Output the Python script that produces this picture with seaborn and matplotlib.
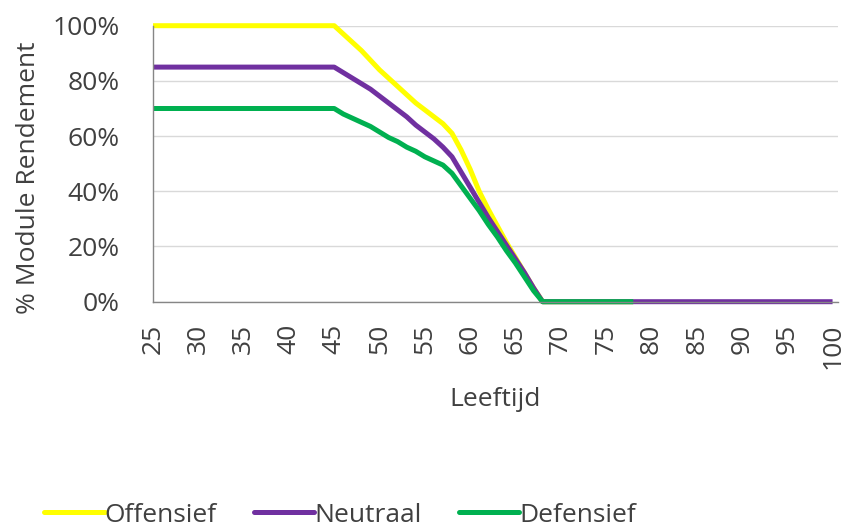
import matplotlib
matplotlib.use("Agg")
import matplotlib.pyplot as plt
from matplotlib.ticker import FuncFormatter
import seaborn as sns
import pandas as pd

# Leeftijd (breakpoints) en module rendement per profiel
ages_off = [25, 45, 46, 47, 48, 49, 50, 51, 52, 53, 54, 55, 56, 57, 58, 59, 60, 61, 62, 63, 64, 65, 66, 67, 68, 78]
vals_off = [1.00, 1.00, 0.97, 0.94, 0.91, 0.875, 0.84, 0.81, 0.78, 0.75, 0.72, 0.695, 0.67, 0.645, 0.61,
            0.55, 0.48, 0.40, 0.335, 0.275, 0.215, 0.16, 0.105, 0.05, 0.0, 0.0]

ages_neu = [25, 45, 46, 47, 48, 49, 50, 51, 52, 53, 54, 55, 56, 57, 58, 59, 60, 61, 62, 63, 64, 65, 66, 67, 68, 100]
vals_neu = [0.85, 0.85, 0.83, 0.81, 0.79, 0.77, 0.745, 0.72, 0.695, 0.67, 0.64, 0.615, 0.59, 0.56, 0.525,
            0.47, 0.415, 0.36, 0.305, 0.255, 0.205, 0.155, 0.105, 0.05, 0.0, 0.0]

ages_def = [25, 45, 46, 47, 48, 49, 50, 51, 52, 53, 54, 55, 56, 57, 58, 59, 60, 61, 62, 63, 64, 65, 66, 67, 68, 78]
vals_def = [0.70, 0.70, 0.68, 0.665, 0.65, 0.635, 0.615, 0.595, 0.58, 0.56, 0.545, 0.525, 0.51, 0.495, 0.465,
            0.42, 0.375, 0.33, 0.28, 0.235, 0.185, 0.14, 0.09, 0.04, 0.0, 0.0]

series_names = ["Offensief", "Neutraal", "Defensief"]
series_colors = ["#FFFF00", "#7030A0", "#00B050"]
x_ticks = list(range(25, 101, 5))
y_ticks = [0.0, 0.2, 0.4, 0.6, 0.8, 1.0]

frames = []
for name, a, v in zip(series_names, [ages_off, ages_neu, ages_def], [vals_off, vals_neu, vals_def]):
    frames.append(pd.DataFrame({"Leeftijd": a, "Rendement": v, "Profiel": name}))
df = pd.concat(frames, ignore_index=True)

sns.set_theme(style="white")
plt.rcParams["font.family"] = ["Open Sans", "DejaVu Sans"]
text_color = "#404040"
fs = 19

fig = plt.figure(figsize=(8.46, 5.26), dpi=100)
ax = fig.add_axes([153 / 846, 1 - 301.7 / 526, (838 - 153) / 846, 276 / 526])

sns.lineplot(data=df, x="Leeftijd", y="Rendement", hue="Profiel", hue_order=series_names,
             palette=dict(zip(series_names, series_colors)), linewidth=3.6, ax=ax,
             legend=False, estimator=None, sort=False)
for ln in ax.get_lines():
    ln.set_clip_on(False)
    ln.set_solid_capstyle("butt")

ax.set_xlim(25, 100.6)
ax.set_ylim(0, 1)
ax.set_xticks(x_ticks)
ax.set_yticks(y_ticks)
ax.yaxis.set_major_formatter(FuncFormatter(lambda v, p: f"{v*100:.0f}%"))
ax.tick_params(axis="x", labelrotation=90, length=0, pad=16, labelsize=fs, colors=text_color)
ax.tick_params(axis="y", length=0, pad=24, labelsize=fs, colors=text_color)
ax.grid(axis="y", color="#D9D9D9", linewidth=1.0)
ax.set_axisbelow(True)
for s in ["top", "right"]:
    ax.spines[s].set_visible(False)
for s in ["left", "bottom"]:
    ax.spines[s].set_color("#868686")
    ax.spines[s].set_linewidth(1.0)

ax.set_xlabel("Leeftijd", fontsize=fs, color=text_color, labelpad=13)
ax.set_ylabel("% Module Rendement", fontsize=fs, color=text_color)
ax.yaxis.set_label_coords(-0.163, 0.45)

handles = [plt.Line2D([], [], color=c, linewidth=3.6) for c in series_colors]
fig.legend(handles, series_names, loc="center", bbox_to_anchor=(340 / 846, 1 - 515 / 526),
           ncol=3, frameon=False, fontsize=fs, handlelength=2.3, handletextpad=0.0,
           columnspacing=1.4, labelcolor=text_color)

fig.savefig("out.png", dpi=100)
